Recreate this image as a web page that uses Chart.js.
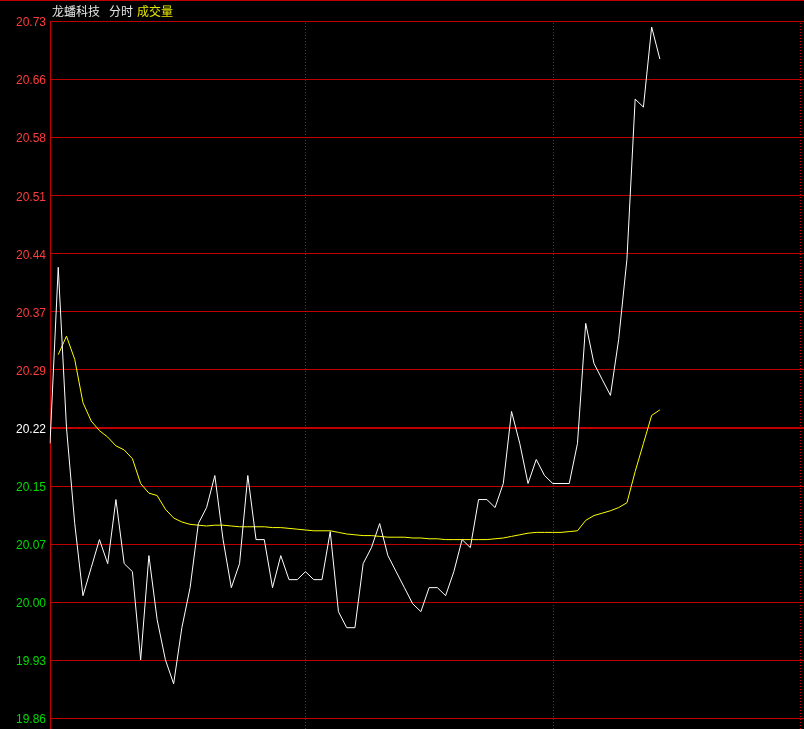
<!DOCTYPE html>
<html>
<head>
<meta charset="utf-8">
<script src="https://cdn.jsdelivr.net/npm/chart.js@4.4.1/dist/chart.umd.min.js"></script>
<style>
  body { margin: 0; background: #000; }
  #wrap { position: relative; width: 804px; height: 729px; background: #000; }
  #title { position: absolute; top: 5px; left: 0; font: 12px "Noto Sans CJK SC", sans-serif; line-height: 12px; }
  #title span { position: absolute; top: 0; white-space: nowrap; }
</style>
</head>
<body>
<div id="wrap">
  <canvas id="minuteChart" width="804" height="729"></canvas>
  <div id="title">
    <span style="left:52px;color:#e6e6e6">龙蟠科技</span>
    <span style="left:109px;color:#e6e6e6">分时</span>
    <span style="left:137px;color:#e6e600">成交量</span>
  </div>
</div>
<script>
// price and average price, one value per minute slot
const priceLine = [
    20.20, 20.42, 20.22, 20.10, 20.01, 20.045, 20.08, 20.05, 20.13, 20.05,
    20.04, 19.93, 20.06, 19.98, 19.93, 19.90, 19.97, 20.02, 20.10, 20.12,
    20.16, 20.08, 20.02, 20.05, 20.16, 20.08, 20.08, 20.02, 20.06, 20.03,
    20.03, 20.04, 20.03, 20.03, 20.09, 19.99, 19.97, 19.97, 20.05, 20.07,
    20.10, 20.06, 20.04, 20.02, 20.00, 19.99, 20.02, 20.02, 20.01, 20.04,
    20.08, 20.07, 20.13, 20.13, 20.12, 20.15, 20.24, 20.20, 20.15, 20.18,
    20.16, 20.15, 20.15, 20.15, 20.20, 20.35, 20.30, 20.28, 20.26, 20.33,
    20.43, 20.63, 20.62, 20.72, 20.68
];
const avgLine = [
    null, 20.311, 20.334, 20.305, 20.251, 20.228, 20.216, 20.208, 20.197, 20.192,
    20.181, 20.150, 20.138, 20.135, 20.118, 20.107, 20.102, 20.099, 20.098, 20.097,
    20.098, 20.098, 20.097, 20.096, 20.096, 20.096, 20.096, 20.095, 20.095, 20.094,
    20.093, 20.092, 20.091, 20.091, 20.091, 20.089, 20.087, 20.086, 20.085, 20.085,
    20.084, 20.083, 20.083, 20.083, 20.082, 20.082, 20.081, 20.081, 20.080, 20.080,
    20.080, 20.080, 20.080, 20.080, 20.081, 20.082, 20.084, 20.086, 20.088, 20.089,
    20.089, 20.089, 20.089, 20.090, 20.091, 20.104, 20.110, 20.113, 20.116, 20.120,
    20.126, 20.165, 20.200, 20.235, 20.242
];

const prevClose = 20.22;
const tickStep = 0.0725;
const tickLabels = ['19.86', '19.93', '20.00', '20.07', '20.15', '20.22', '20.29',
                    '20.37', '20.44', '20.51', '20.58', '20.66', '20.73'];
const slotCount = 92;
const dividerSlots = [31, 61, 91];

const yMin = prevClose - 5 * tickStep;
const yMax = prevClose + 7 * tickStep;
const slots = Array.from({ length: slotCount }, (_, i) => String(i));

const gridRed = 'rgb(190,0,0)';

function isPrevClose(v) {
    return Math.abs(v - prevClose) < 1e-6;
}

// frame: top rule, left rule, red price rules and dotted dividers down to the bottom edge
const framePlugin = {
    id: 'frame',
    beforeDatasetsDraw(chart) {
        const { ctx, chartArea, scales } = chart;
        ctx.save();
        ctx.strokeStyle = gridRed;
        ctx.lineWidth = 1;

        ctx.beginPath();
        ctx.moveTo(0, 0.5);
        ctx.lineTo(chart.width, 0.5);
        ctx.stroke();

        ctx.beginPath();
        ctx.moveTo(chartArea.left + 0.5, chartArea.top);
        ctx.lineTo(chartArea.left + 0.5, chart.height);
        ctx.stroke();

        scales.y.ticks.forEach(t => {
            const w = isPrevClose(t.value) ? 2 : 1;
            const y = Math.round(scales.y.getPixelForValue(t.value)) + (w === 1 ? 0.5 : 1);
            ctx.lineWidth = w;
            ctx.beginPath();
            ctx.moveTo(chartArea.left, y);
            ctx.lineTo(chart.width, y);
            ctx.stroke();
        });

        ctx.lineWidth = 1;
        ctx.strokeStyle = 'rgb(210,0,0)';
        ctx.setLineDash([1, 2]);
        dividerSlots.forEach(s => {
            const x = Math.round(scales.x.getPixelForValue(s)) + 0.5;
            ctx.beginPath();
            ctx.moveTo(x, chartArea.top + 2);
            ctx.lineTo(x, chart.height);
            ctx.stroke();
        });
        ctx.restore();
    }
};

new Chart(document.getElementById('minuteChart').getContext('2d'), {
    type: 'line',
    data: {
        labels: slots,
        datasets: [
            {
                label: '价格',
                data: priceLine,
                borderColor: '#ffffff',
                borderWidth: 1,
                pointRadius: 0,
                tension: 0
            },
            {
                label: '均价',
                data: avgLine,
                borderColor: '#ffff00',
                borderWidth: 1,
                pointRadius: 0,
                tension: 0
            }
        ]
    },
    options: {
        responsive: false,
        animation: false,
        layout: { padding: { top: 21, right: 4, bottom: 9, left: 0 } },
        plugins: {
            legend: { display: false },
            title: { display: false },
            tooltip: { enabled: false }
        },
        scales: {
            x: {
                type: 'category',
                display: false
            },
            y: {
                min: yMin,
                max: yMax,
                afterFit(scale) { scale.width = 50; },
                afterBuildTicks(scale) {
                    scale.ticks = tickLabels.map((t, i) => ({ value: yMin + i * tickStep }));
                },
                border: { display: false },
                grid: { display: false, drawTicks: false },
                ticks: {
                    padding: 4,
                    labelOffset: 2,
                    autoSkip: false,
                    font: { family: '"Liberation Sans", Arial, sans-serif', size: 12 },
                    color: ctx => {
                        const v = ctx.tick.value;
                        if (isPrevClose(v)) return '#ffffff';
                        return v > prevClose ? '#ff3c3c' : '#00dc00';
                    },
                    callback: (v, i) => tickLabels[i]
                }
            }
        }
    },
    plugins: [framePlugin]
});
</script>
</body>
</html>
